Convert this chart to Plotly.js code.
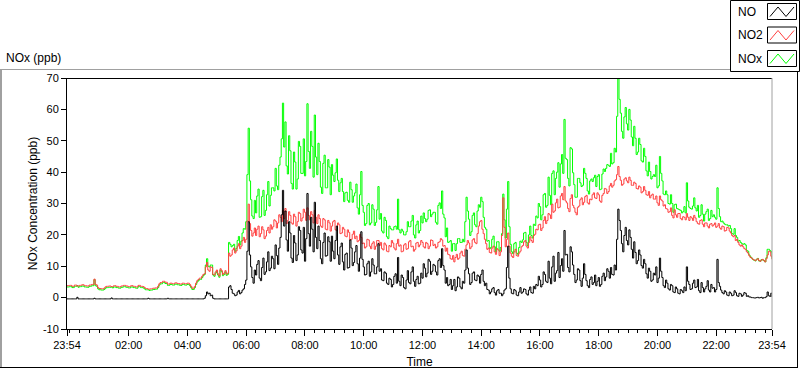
<!DOCTYPE html>
<html><head><meta charset="utf-8">
<script src="https://cdn.plot.ly/plotly-3.0.1.min.js"></script>
<style>html,body{margin:0;padding:0;background:#fff;}#chart{width:800px;height:369px;}</style>
</head><body><div id="chart"></div>
<script>
// samples every 2.5 minutes, counted from 23:54 (one row = one hour)
const stepMinutes = 2.5;
const tickMinutes = [0,126,246,366,486,606,726,846,966,1086,1206,1326,1440];
const tickLabels = ['23:54','02:00','04:00','06:00','08:00','10:00','12:00','14:00','16:00','18:00','20:00','22:00','23:54'];
const yTickVals = [-10,0,10,20,30,40,50,60,70];
const yTickLabels = ['-10','0','10','20','30','40','50','60','70'];
const seriesNames = ['NO','NO2','NOx'];
const seriesColors = ['#000000','#ff4040','#00ff00'];

const no = [
-0.4,-0.4,-0.4,-0.4,-0.4,-0.4,-0.4,-0.4,0.1,-0.4,-0.4,-0.4,-0.4,-0.4,-0.4,-0.4,-0.4,-0.4,-0.4,-0.4,-0.4,-0.4,-0.2,-0.4,
-0.4,-0.4,-0.4,-0.4,-0.4,-0.4,-0.4,-0.4,-0.4,-0.4,-0.4,-0.4,-0.1,-0.4,-0.4,-0.4,-0.4,-0.4,-0.4,-0.4,-0.4,-0.4,-0.4,-0.4,
-0.4,-0.4,-0.4,-0.4,-0.4,-0.4,-0.4,-0.4,-0.4,-0.4,-0.4,-0.4,-0.4,-0.4,-0.4,-0.4,-0.4,-0.4,-0.2,-0.4,-0.4,-0.4,-0.4,-0.4,
-0.4,-0.4,-0.4,-0.4,-0.4,-0.4,-0.4,-0.4,-0.4,-0.4,-0.2,-0.4,-0.4,-0.4,-0.4,-0.4,-0.4,-0.4,-0.4,-0.4,-0.4,-0.4,-0.4,-0.4,
-0.4,-0.4,-0.4,-0.4,-0.4,-0.4,-0.4,-0.4,-0.4,-0.4,-0.4,-0.4,-0.4,-0.4,-0.4,-0.4,-0.2,0.6,1.8,1.2,1.4,0.6,0.8,-0.2,
-0.4,-0.4,-0.4,-0.4,-0.4,-0.4,-0.4,-0.4,-0.4,-0.4,-0.4,-0.4,3.4,3.8,2.6,1.4,1.2,0.6,0.8,1.8,2.3,1.2,1.6,2.4,
2.8,4.2,5.6,14.8,24.2,13.6,9.8,6.4,4.6,8.8,7.2,10.6,11.8,6.2,5.4,9.6,12.6,7.4,8.2,11.4,14.6,8.6,9.4,13.2,
12.4,9.2,16.8,13.4,10.6,15.8,19.2,26.4,34.2,22.8,27.6,18.4,14.8,24.2,20.6,12.6,11.2,19.8,17.4,11.8,13.6,22.6,21.4,15.2,
14.2,22.4,11.6,18.8,33.2,20.4,16.4,25.6,21.8,14.6,30.4,19.2,15.6,22.8,18.2,12.4,10.8,17.6,20.6,13.2,13.4,19.4,17.8,11.6,
19.6,14.8,12.4,18.2,22.8,13.6,10.6,16.2,17.4,11.4,8.8,13.8,14.2,9.4,9.6,18.4,15.8,10.2,11.2,14.6,16.6,10.8,8.4,12.6,
21.0,12.2,9.8,7.2,7.4,10.8,11.6,6.8,8.2,12.4,10.4,7.6,7.6,9.8,17.2,8.4,9.2,5.6,5.4,8.2,7.8,4.6,4.2,6.2,
5.8,3.4,4.2,6.8,7.6,4.6,12.8,5.2,3.8,7.2,6.4,3.2,2.8,5.6,8.6,4.8,4.4,8.2,9.8,5.2,3.6,5.8,6.8,4.4,
4.6,7.8,6.2,10.8,9.4,6.6,7.8,12.2,11.6,7.4,8.4,10.6,10.2,8.2,7.2,11.8,12.4,9.6,15.6,10.2,8.8,4.6,6.4,3.8,
4.2,5.8,2.6,3.8,5.8,2.2,3.4,6.6,6.2,3.4,2.8,5.2,4.6,8.8,15.2,9.4,7.6,4.2,4.8,7.8,8.2,5.6,5.4,7.2,
6.8,4.6,7.4,8.8,5.2,3.8,4.6,2.6,2.4,1.2,1.8,2.8,3.2,1.6,0.8,2.2,2.6,1.4,1.4,0.6,1.2,2.4,2.8,9.6,
16.4,6.2,2.8,1.4,1.2,2.6,2.2,0.8,0.6,1.8,3.2,1.4,1.8,2.8,2.6,1.2,0.8,2.4,3.4,1.6,1.4,3.6,2.8,4.2,
3.8,6.8,5.6,3.4,4.2,8.2,7.4,5.2,4.8,11.6,6.2,4.4,9.8,13.2,5.2,7.8,8.6,14.4,6.4,10.2,12.4,8.4,21.4,13.6,
13.8,9.6,8.2,16.2,14.6,10.4,7.4,4.8,5.6,9.2,8.8,5.4,3.6,6.2,10.8,7.4,5.4,3.8,3.2,5.8,6.6,4.2,4.8,7.2,
3.8,5.2,6.4,3.6,4.2,6.8,7.8,5.4,6.6,9.2,8.4,6.2,9.6,7.4,7.2,10.4,8.8,18.6,28.2,24.6,21.4,17.2,14.6,19.8,
22.4,18.2,16.8,21.6,19.2,15.4,12.6,17.8,14.4,10.8,11.8,15.2,13.6,10.2,9.4,12.2,10.8,7.6,6.2,9.4,8.4,5.2,5.6,7.8,
7.2,9.8,4.8,6.2,12.6,8.4,6.4,3.8,3.2,5.6,4.6,2.8,2.4,4.2,3.8,1.8,1.6,3.4,2.8,1.4,1.2,2.6,2.2,1.6,
3.4,2.2,9.8,5.2,4.2,2.6,2.8,4.6,5.6,3.2,3.4,5.8,2.2,1.6,4.8,3.2,1.8,2.8,3.6,5.4,2.4,1.8,4.2,3.0,
3.2,1.8,2.6,12.2,4.8,3.6,2.4,1.6,1.2,2.2,1.8,0.8,0.6,1.8,1.4,0.6,0.8,2.2,1.6,0.6,0.4,1.4,1.2,0.4,
0.8,1.6,1.4,0.4,0.6,0.2,0.2,0.0,0.0,-0.1,-0.1,0.0,0.1,-0.1,0.0,0.1,-0.2,0.0,0.0,0.3,1.8,0.6,0.4,1.4,
0.2];

const no2 = [
3.8,3.8,3.9,3.9,3.6,3.6,4.0,4.0,3.7,3.7,3.9,3.9,4.1,4.1,3.8,3.8,3.7,3.7,4.0,4.0,4.2,4.2,5.9,4.2,
4.0,3.2,2.9,2.9,2.8,2.8,3.0,3.4,3.6,3.6,3.7,3.7,3.5,3.5,3.8,3.8,3.6,3.6,3.4,3.4,3.7,3.7,3.9,3.9,
3.7,3.7,3.5,3.5,3.8,3.8,3.6,3.6,3.4,3.4,3.9,3.9,3.6,3.6,3.5,3.2,2.9,2.9,2.7,2.7,2.8,2.8,3.0,3.0,
3.1,3.1,3.6,4.4,4.8,4.8,5.2,5.2,4.9,4.9,4.3,4.3,4.6,4.6,4.4,4.4,4.7,4.7,4.5,4.5,4.3,4.3,4.6,4.6,
4.4,4.4,4.6,4.6,4.2,3.6,3.0,3.0,3.6,4.6,5.4,5.8,6.2,6.2,6.8,7.4,7.6,9.8,11.2,8.8,8.4,9.8,9.6,7.4,
7.2,8.2,8.8,7.6,6.9,9.2,8.6,7.4,7.8,8.6,7.5,7.8,14.2,13.2,13.6,15.2,15.8,14.2,14.9,16.4,17.2,15.6,16.4,18.2,
19.2,17.6,18.6,24.4,29.8,23.6,21.4,19.6,20.6,22.2,19.8,21.8,22.8,19.4,20.4,22.6,21.6,18.8,19.6,21.4,22.4,20.6,23.2,21.8,
22.6,24.8,24.4,22.2,23.8,26.4,25.6,24.2,27.8,25.2,28.4,23.6,24.6,27.4,26.2,23.8,23.4,26.6,25.8,22.8,24.2,27.2,26.8,24.4,
25.4,28.2,27.2,24.6,28.6,26.2,24.8,27.4,26.4,23.8,27.8,25.6,23.6,26.4,25.2,22.8,22.4,25.2,24.8,21.8,21.6,24.6,23.8,21.2,
22.8,24.2,24.6,21.6,21.4,23.8,23.2,20.4,20.6,22.4,21.8,19.6,19.4,21.6,20.8,18.4,18.6,20.2,21.2,18.8,19.6,17.8,18.2,20.2,
19.2,17.2,17.4,15.8,16.2,18.6,18.4,16.4,15.6,17.2,17.8,15.4,16.4,18.2,18.2,16.6,17.6,15.6,15.2,17.4,16.8,14.8,14.6,16.6,
16.2,18.2,17.4,15.8,15.2,17.2,18.6,16.4,16.8,14.6,14.8,16.8,17.2,15.4,15.6,17.8,18.2,16.2,16.4,14.8,15.4,17.4,17.6,16.2,
16.8,18.2,17.6,16.2,15.8,17.6,17.2,15.6,16.4,18.4,18.2,16.6,17.0,15.8,16.2,17.6,17.8,18.8,18.4,16.4,16.6,14.8,15.8,13.8,
13.6,12.4,12.2,13.4,11.4,12.8,13.8,12.2,12.6,14.2,14.8,13.4,13.2,15.4,16.8,18.2,17.4,15.6,16.2,18.4,18.8,17.6,17.2,20.4,
22.8,24.2,24.6,21.8,20.4,18.6,17.2,15.4,15.8,14.4,14.2,15.8,16.4,14.6,13.8,15.6,15.2,13.4,14.6,19.8,31.8,22.4,16.2,18.6,
20.6,16.4,14.2,13.2,12.8,14.6,15.4,13.4,13.2,14.2,14.8,16.2,16.6,17.8,18.2,16.4,15.8,17.6,19.4,18.2,17.6,19.8,20.2,21.8,
21.6,23.2,23.4,21.4,22.2,24.6,25.8,23.6,24.6,26.8,26.4,25.2,29.8,27.2,27.6,30.2,31.4,28.6,28.8,32.4,33.2,31.2,35.4,30.8,
30.2,28.4,27.4,31.6,32.8,29.4,28.6,27.2,26.4,28.8,29.2,31.2,31.8,29.6,30.4,32.2,32.6,30.2,29.8,31.4,31.2,32.8,33.4,31.8,
31.6,33.4,32.8,30.8,30.4,32.6,33.2,34.8,34.6,33.2,33.8,35.6,36.4,35.2,35.8,37.2,37.6,39.2,41.8,38.6,37.4,35.8,36.2,37.8,
38.2,37.2,36.6,38.4,37.4,35.8,35.8,36.8,36.4,34.8,34.6,35.6,35.2,33.4,33.8,35.4,34.2,32.8,32.6,33.8,31.8,32.6,33.0,31.4,
31.4,32.4,30.2,29.4,32.4,31.2,30.8,29.2,29.6,28.4,28.2,27.2,27.4,28.6,26.2,25.4,28.0,26.4,25.6,26.8,26.8,25.2,24.8,25.8,
25.6,24.8,26.8,25.6,24.6,25.8,25.4,24.6,26.2,25.4,24.2,23.6,23.4,24.6,24.8,23.4,22.6,23.8,23.8,22.8,22.2,23.4,23.6,22.8,
23.2,23.8,22.4,22.8,23.6,22.2,21.8,22.8,22.6,21.2,21.4,22.4,22.2,21.2,20.6,19.8,19.4,19.8,18.2,18.6,17.6,16.8,16.4,16.8,
16.2,15.6,15.4,14.6,14.2,13.4,12.8,12.6,12.2,12.0,11.8,12.2,12.4,11.8,11.6,12.0,12.2,11.8,11.4,12.4,13.6,14.8,14.6,13.2,
12.2];

const nox = [
3.4,3.4,3.5,3.5,3.2,3.2,3.6,3.6,3.8,3.3,3.5,3.5,3.7,3.7,3.4,3.4,3.3,3.3,3.6,3.6,3.8,3.8,5.7,3.8,
3.6,2.8,2.5,2.5,2.4,2.4,2.6,3.0,3.2,3.2,3.3,3.3,3.4,3.1,3.4,3.4,3.2,3.2,3.0,3.0,3.3,3.3,3.5,3.5,
3.3,3.3,3.1,3.1,3.4,3.4,3.2,3.2,3.0,3.0,3.5,3.5,3.2,3.2,3.1,2.8,2.5,2.5,2.5,2.3,2.4,2.4,2.6,2.6,
2.7,2.7,3.2,4.0,4.4,4.4,4.8,4.8,4.5,4.5,3.9,3.9,4.2,4.2,4.0,4.0,4.3,4.3,4.1,4.1,3.9,3.9,4.2,4.2,
4.0,4.0,4.2,4.2,3.8,3.2,2.6,2.6,3.2,4.2,5.0,5.4,5.8,5.8,6.4,7.0,7.4,10.4,12.4,10.0,9.8,10.4,10.4,7.2,
6.8,7.8,8.4,7.2,6.5,8.8,8.2,7.0,7.4,8.2,7.1,7.4,17.6,17.0,16.2,16.6,17.0,14.8,15.7,18.2,19.5,16.8,18.0,20.6,
22.0,21.8,24.2,39.2,54.0,37.2,31.2,26.0,25.2,31.0,27.0,32.4,34.6,25.6,25.8,32.2,34.2,26.2,27.8,32.8,37.0,29.2,32.6,35.0,
35.0,34.0,41.2,35.6,34.4,42.2,44.8,50.6,62.0,48.0,56.0,42.0,39.4,51.6,46.8,36.4,34.6,46.4,43.2,34.6,37.8,49.8,48.2,39.6,
39.6,50.6,38.8,43.4,61.8,46.6,41.2,53.0,48.2,38.4,58.2,44.8,39.2,49.2,43.4,35.2,33.2,42.8,45.4,35.0,35.0,44.0,41.6,32.8,
42.4,39.0,37.0,39.8,44.2,37.4,33.8,36.6,38.0,33.8,30.6,33.4,33.6,31.0,30.4,36.8,34.4,30.4,32.4,33.4,36.2,28.6,26.6,32.8,
40.2,29.4,27.2,23.0,23.6,29.4,30.0,23.2,23.8,29.6,28.2,23.0,24.0,28.0,35.4,25.0,26.8,21.2,20.6,25.6,24.6,19.4,18.8,22.8,
22.0,21.6,21.6,22.6,22.8,21.8,31.4,21.6,20.6,21.8,21.2,20.0,20.0,21.0,24.2,22.6,22.6,24.4,26.2,20.0,19.0,23.2,24.4,20.6,
21.4,26.0,23.8,27.0,25.2,24.2,25.0,27.8,28.0,25.8,26.6,27.2,27.2,24.0,23.4,29.4,30.2,28.4,34.0,26.6,25.4,19.4,22.2,17.6,
17.8,18.2,14.8,17.2,17.2,15.0,17.2,18.8,18.8,17.6,17.6,18.6,17.8,24.2,32.0,27.6,25.0,19.8,21.0,26.2,27.0,23.2,22.6,27.6,
29.6,28.8,32.0,30.6,25.6,22.4,21.8,18.0,18.2,15.6,16.0,18.6,19.6,16.2,14.6,17.8,17.8,14.8,16.0,20.4,33.0,24.8,19.0,28.2,
37.0,22.6,17.0,14.6,14.0,17.2,17.6,14.2,13.8,16.0,18.0,17.6,18.4,20.6,20.8,17.6,16.6,20.0,22.8,19.8,19.0,23.4,23.0,26.0,
25.4,30.0,29.0,24.8,26.4,32.8,33.2,28.8,29.4,38.4,32.6,29.6,39.6,40.4,32.8,38.0,40.0,43.0,35.2,42.6,45.6,39.6,56.8,44.4,
44.0,38.0,35.6,47.8,47.4,39.8,36.0,32.0,32.0,38.0,38.0,36.6,35.4,35.8,41.2,39.6,38.0,34.0,33.0,37.2,37.8,37.0,38.2,39.0,
35.4,38.6,39.2,34.4,34.6,39.4,41.0,40.2,41.2,42.4,42.2,41.8,46.0,42.6,43.0,47.6,46.4,57.8,69.8,63.2,58.8,53.0,50.8,57.6,
60.6,55.4,53.4,60.0,56.6,51.2,48.4,54.6,50.8,45.6,46.4,50.8,48.8,43.6,43.2,47.6,45.0,40.4,38.8,43.2,40.2,37.8,38.6,39.2,
38.6,42.2,35.0,35.6,45.0,39.6,37.2,33.0,32.8,34.0,32.8,30.0,29.8,32.8,30.0,27.2,29.6,29.8,28.4,28.2,28.0,27.8,27.0,27.4,
29.0,27.0,36.6,30.8,28.8,28.4,28.2,29.2,31.8,28.6,27.6,29.4,25.6,26.2,29.6,26.6,24.4,26.6,27.4,28.2,24.6,25.2,27.8,25.8,
26.4,25.6,25.0,35.0,28.4,25.8,24.2,24.4,23.8,23.4,23.2,23.2,22.8,23.0,22.0,20.4,20.2,22.0,19.8,19.2,18.0,18.2,17.6,17.2,
17.0,17.2,16.8,15.0,14.8,13.6,13.0,12.6,12.2,11.9,11.7,12.2,12.5,11.7,11.6,12.1,12.0,11.8,11.4,12.7,15.4,15.4,15.0,14.6,
12.4];

const timeMin = no.map((_, i) => i * stepMinutes);

// pixel -> paper helpers for decorations
const L = 67, R = 772, T = 78, B = 329;
const px = x => (x - L) / (R - L);
const py = y => (B - y) / (B - T);
const FONT = 'Liberation Sans, Arial, sans-serif';

const traces = [
  {x: timeMin, y: nox, name: seriesNames[2], line: {color: seriesColors[2]}},
  {x: timeMin, y: no2, name: seriesNames[1], line: {color: seriesColors[1]}},
  {x: timeMin, y: no, name: seriesNames[0], line: {color: seriesColors[0]}}
].map(t => Object.assign(t, {type: 'scatter', mode: 'lines', line: Object.assign(t.line, {width: 1, shape: 'hv'}), hoverinfo: 'skip'}));

const line = (x0, y0, x1, y1, color, w) => ({type: 'line', xref: 'paper', yref: 'paper',
  x0: px(x0), y0: py(y0), x1: px(x1), y1: py(y1), line: {color: color, width: w || 1}});

const shapes = [
  line(0, 69.5, 730, 69.5, '#a0a0a0'),
  line(1, 69, 1, 368, '#a0a0a0', 2),
  line(0, 367.5, 798, 367.5, '#000'),
  line(797.5, 71.5, 797.5, 368, '#000'),
  line(67, 78.5, 772, 78.5, '#000'),
  line(772, 78, 772, 329, '#a0a0a0'),
  {type: 'rect', xref: 'paper', yref: 'paper', x0: px(730.5), x1: px(799.5), y0: py(0.5), y1: py(71.5),
   line: {color: '#000', width: 1}, fillcolor: '#fff'}
];
const annotations = [
  {text: 'NOx (ppb)', xref: 'paper', yref: 'paper', x: px(4), y: py(57.5), xanchor: 'left', yanchor: 'middle',
   showarrow: false, font: {family: FONT, size: 12, color: '#000'}}
];
const legendRows = [11.5, 35, 58.5];
seriesNames.forEach((name, i) => {
  const cy = legendRows[i];
  annotations.push({text: name, xref: 'paper', yref: 'paper', x: px(736), y: py(cy), xanchor: 'left', yanchor: 'middle',
    showarrow: false, font: {family: FONT, size: 12, color: '#000'}});
  shapes.push({type: 'rect', xref: 'paper', yref: 'paper', x0: px(767.5), x1: px(796.5), y0: py(cy - 8), y1: py(cy + 8),
    line: {color: '#000', width: 1}, fillcolor: '#fff'});
  shapes.push({type: 'path', xref: 'paper', yref: 'paper',
    path: `M ${px(770)},${py(cy + 5)} L ${px(778)},${py(cy - 4.5)} L ${px(786)},${py(cy + 5)} L ${px(794)},${py(cy - 4.5)}`,
    line: {color: seriesColors[i], width: 1}});
});

const layout = {
  width: 800, height: 369,
  margin: {l: L, r: 800 - R, t: T, b: 369 - B, pad: 0},
  paper_bgcolor: '#fff', plot_bgcolor: '#fff',
  showlegend: false,
  font: {family: FONT, size: 12, color: '#000'},
  xaxis: {range: [0, 1440], tickmode: 'array', tickvals: tickMinutes, ticktext: tickLabels,
    ticks: 'outside', ticklen: 6, tickcolor: '#000', tickfont: {size: 11, color: '#000'},
    showgrid: false, zeroline: false, showline: true, linecolor: '#000', linewidth: 1,
    minor: {tickmode: 'linear', tick0: 6, dtick: 20, ticks: 'outside', ticklen: 3, tickcolor: '#000', showgrid: false},
    title: {text: 'Time', font: {size: 12, color: '#000'}, standoff: 8}},
  yaxis: {range: [-10, 70], tickmode: 'array', tickvals: yTickVals, ticktext: yTickLabels,
    ticks: 'outside', ticklen: 5, tickcolor: '#000', tickfont: {size: 11, color: '#000'},
    showgrid: false, zeroline: false, showline: true, linecolor: '#000', linewidth: 1,
    title: {text: 'NOx Concentration (ppb)', font: {size: 12, color: '#000'}, standoff: 2}},
  shapes: shapes,
  annotations: annotations
};
Plotly.newPlot('chart', traces, layout, {staticPlot: true, displayModeBar: false});
</script></body></html>
